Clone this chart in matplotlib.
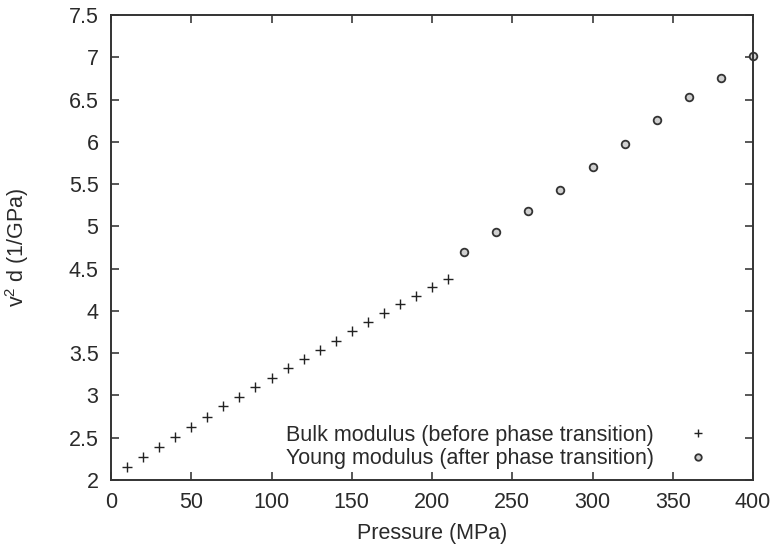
import matplotlib
matplotlib.use("Agg")
import matplotlib.pyplot as plt

plt.rcParams['font.family'] = ['Liberation Sans', 'DejaVu Sans']
plt.rcParams['mathtext.fontset'] = 'custom'
plt.rcParams['mathtext.rm'] = 'Liberation Sans'

# Data
bulk_pressure = [10, 20, 30, 40, 50, 60, 70, 80, 90, 100, 110, 120, 130, 140, 150,
                 160, 170, 180, 190, 200, 210]
bulk_values = [2.15, 2.27, 2.39, 2.51, 2.63, 2.75, 2.87, 2.98, 3.10, 3.21, 3.32, 3.43,
               3.54, 3.65, 3.76, 3.87, 3.97, 4.08, 4.18, 4.28, 4.38]
young_pressure = [220, 240, 260, 280, 300, 320, 340, 360, 380, 400]
young_values = [4.70, 4.93, 5.18, 5.43, 5.70, 5.98, 6.26, 6.53, 6.75, 7.02]

xticks = [0, 50, 100, 150, 200, 250, 300, 350, 400]
yticks = [2, 2.5, 3, 3.5, 4, 4.5, 5, 5.5, 6, 6.5, 7, 7.5]
ytick_labels = ['2', '2.5', '3', '3.5', '4', '4.5', '5', '5.5', '6', '6.5', '7', '7.5']

FS = 15.5
TXT = '#2a2a2a'

fig = plt.figure(figsize=(7.76, 5.46), dpi=100)
ax = fig.add_axes([111/776, 1-480/546, 642/776, 465/546])

ax.plot(bulk_pressure, bulk_values, linestyle='none', marker='+', markersize=6.5,
        markeredgewidth=1.0, color='#222222',
        label='Bulk modulus (before phase transition)')
ax.plot(young_pressure, young_values, linestyle='none', marker='o', markersize=5.5,
        markeredgewidth=1.3, markeredgecolor='#333333', markerfacecolor='#d0d0d0',
        label='Young modulus (after phase transition)', clip_on=False)

ax.set_xlim(0, 400)
ax.set_ylim(2, 7.5)
ax.set_xticks(xticks)
ax.set_yticks(yticks)
ax.set_yticklabels(ytick_labels)

ax.tick_params(direction='in', length=6, width=1.1, top=True, right=True,
               labelsize=FS, pad=9, colors=TXT)
for s in ax.spines.values():
    s.set_linewidth(1.4)
    s.set_color('#333333')

ax.set_xlabel('Pressure (MPa)', fontsize=FS, color=TXT, labelpad=7)
ax.set_ylabel(r'v$\mathregular{^2}$ d (1/GPa)', fontsize=FS, color=TXT, labelpad=27)

leg = ax.legend(loc='lower right', bbox_to_anchor=(0.944, 0.0), frameon=False,
                markerfirst=False, fontsize=FS, handlelength=0.8, handletextpad=1.65,
                borderpad=0, labelspacing=0.12, markerscale=0.85)
for col in leg._legend_handle_box.get_children():
    col.align = 'right'
for t in leg.get_texts():
    t.set_color(TXT)

fig.savefig('out.png', dpi=100)
